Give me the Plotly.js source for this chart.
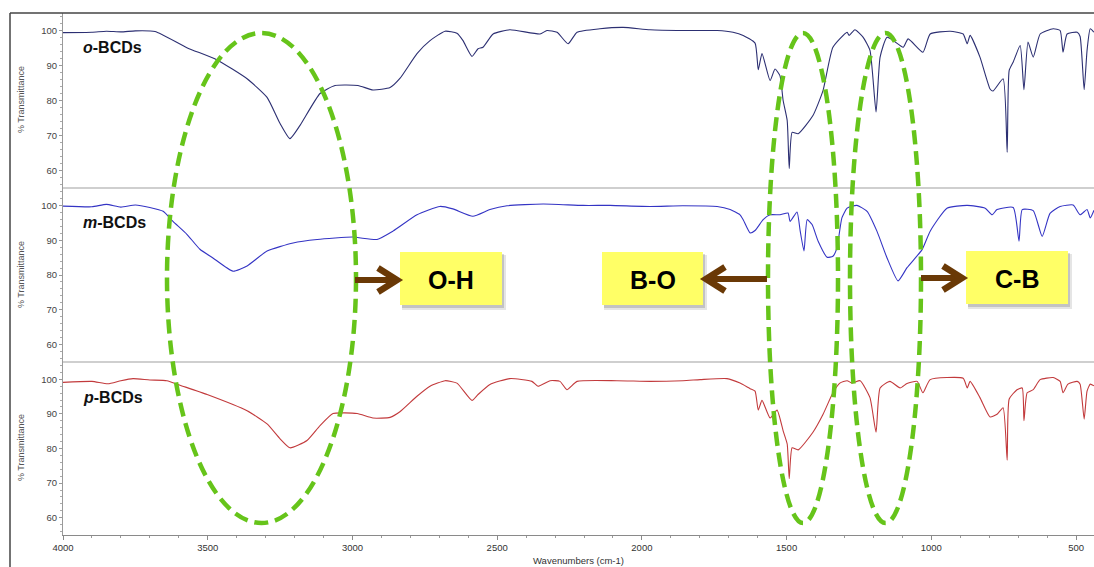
<!DOCTYPE html>
<html>
<head>
<meta charset="utf-8">
<script src="https://cdn.plot.ly/plotly-3.0.1.min.js"></script>
<style>html,body{margin:0;padding:0;background:#fff;}#chart{width:1094px;height:567px;}</style>
</head>
<body>
<div id="chart"></div>
<script>
// ---------- data ----------
const seriesNames = ["o-BCDs", "m-BCDs", "p-BCDs"];

const oWn = [4000,3900,3850,3800,3750,3682,3572,3468,3364,3295,3250,3216,3181,3112,3060,2981,2929,2870,2836,2777,2732,2680,2639,2618,2587,2566,2549,2514,2456,2352,2328,2293,2255,2224,2145,2065,1972,1858,1799,1740,1685,1650,1609,1598,1585,1557,1540,1523,1512,1498,1491,1481,1460,1409,1374,1340,1291,1284,1264,1236,1212,1191,1177,1153,1108,1097,1080,1029,1004,935,890,876,866,832,797,787,752,738,731,717,693,680,666,648,624,579,555,545,531,496,486,472,462,451,438];
const oT  = [99.4,99.5,99.8,99.6,99.9,99.7,95.1,91.6,86.2,80.9,73.4,69.1,72.9,82.0,84.3,84.3,83.0,83.7,86.3,93.4,97.1,99.8,99.2,97.1,92.6,94.8,95.2,99.0,100.2,99.0,100.0,99.5,96.2,99.5,100.5,100.9,100.2,100.0,100.0,100.0,99.5,98.6,96.4,88.8,93.4,85.7,89.0,87.1,80.0,74.3,60.6,70.9,70.5,75.7,82.9,95.2,99.5,98.6,100.2,98.1,94.3,76.7,92.4,98.1,95.7,95.2,97.6,93.8,99.0,99.8,99.0,96.2,98.6,92.4,83.3,82.7,86.2,65.2,88.6,91.0,95.7,83.1,96.7,92.4,99.0,100.5,100.0,93.8,99.0,99.5,98.3,83.1,94.3,100.5,99.5];

const mWn = [4000,3900,3850,3800,3750,3700,3654,3620,3572,3527,3482,3413,3364,3295,3205,3122,2998,2915,2860,2777,2698,2653,2584,2525,2466,2341,2203,2110,1972,1858,1740,1695,1661,1650,1626,1609,1581,1557,1523,1495,1488,1464,1453,1440,1429,1412,1391,1360,1340,1326,1309,1291,1257,1222,1188,1153,1115,1084,1032,1004,946,876,814,790,773,717,697,686,648,617,590,555,510,486,462,451,438];
const mT  = [99.8,99.6,100.3,99.5,100.1,99.4,98.3,95.4,91.7,87.4,84.9,81.1,82.6,86.9,89.2,90.2,90.9,90.2,92.6,97.3,99.7,99.0,96.9,98.8,99.9,100.4,100.0,100.0,99.7,99.9,99.7,98.8,97.3,95.9,92.1,92.8,95.9,97.3,97.3,97.8,95.4,98.1,92.6,86.9,95.9,94.5,89.7,85.1,85.4,87.8,96.4,99.2,100.0,98.3,92.6,84.9,78.3,82.1,87.3,92.6,99.2,100.0,99.2,97.3,98.8,99.4,89.7,98.8,98.5,91.1,97.7,99.7,100.1,97.3,98.8,96.4,98.6];

const pWn = [4000,3900,3845,3800,3758,3700,3641,3596,3502,3364,3295,3250,3216,3157,3112,3067,2984,2929,2870,2836,2777,2732,2680,2639,2587,2566,2525,2456,2380,2359,2317,2283,2259,2224,2086,1972,1858,1799,1706,1661,1626,1609,1598,1585,1557,1533,1512,1498,1491,1481,1460,1409,1374,1340,1316,1291,1274,1246,1212,1191,1177,1143,1108,1084,1049,1029,1004,890,876,866,832,797,773,752,738,731,704,686,680,669,648,624,579,555,545,528,496,486,472,462,451,438];
const pT  = [99.1,99.4,98.7,99.6,100.2,99.8,99.6,98.3,95.6,90.9,87.1,82.8,80.2,82.3,86.6,90.1,90.1,88.8,89.0,90.6,95.1,98.0,99.6,98.9,93.9,95.6,98.5,100.2,99.4,98.0,99.6,99.4,97.0,99.4,99.6,99.4,99.6,99.9,100.2,98.9,97.3,96.6,91.1,93.9,88.8,91.1,85.1,81.3,71.3,80.2,79.6,84.7,89.9,96.1,98.9,99.6,98.9,99.6,94.7,84.7,97.5,99.4,97.5,98.8,99.4,96.1,99.9,100.3,97.5,99.4,94.7,89.1,89.9,91.8,76.6,94.3,97.0,97.5,88.0,96.1,97.0,99.9,100.5,99.4,96.1,98.6,99.4,98.6,88.5,96.6,98.6,98.1];

const yTickVals = [60, 70, 80, 90, 100];
const xTickVals = [4000, 3500, 3000, 2500, 2000, 1500, 1000, 500];
const bandLabels = ["O-H", "B-O", "C-B"];

// ---------- helpers: pixel -> paper (style only) ----------
const L = 63, T = 13, B = 535, W = 1094;
const PW = W - L, PH = B - T;
const X = px => (px - L) / PW;
const Y = py => (B - py) / PH;

const FONT = "Arial, 'Liberation Sans', sans-serif";
const colors = ["#2c2f72", "#3434c4", "#c23a3c"];

const traces = [
  {x: oWn, y: oT, yaxis: "y",  name: seriesNames[0]},
  {x: mWn, y: mT, yaxis: "y2", name: seriesNames[1]},
  {x: pWn, y: pT, yaxis: "y3", name: seriesNames[2]}
].map((t, i) => Object.assign(t, {type: "scatter", mode: "lines", xaxis: "x",
  line: {color: colors[i], width: 1.1, shape: "spline", smoothing: 0.5}, hoverinfo: "skip"}));

function yax(domain) {
  return {
    domain: domain, range: [55, 105], fixedrange: true,
    tickmode: "array", tickvals: yTickVals,
    showline: true, linecolor: "#9a9a9a", linewidth: 1,
    ticks: "outside", ticklen: 3, tickcolor: "#9a9a9a",
    minor: {dtick: 2, ticks: "outside", ticklen: 2, tickcolor: "#aaa"},
    showgrid: false, zeroline: false,
    tickfont: {family: FONT, size: 9.5, color: "#444"}
  };
}

const shapes = [];
const annotations = [];

// outer frame
shapes.push({type: "line", xref: "paper", yref: "paper", x0: X(10), x1: X(1094), y0: Y(13), y1: Y(13), line: {color: "#444", width: 1.5}});
shapes.push({type: "line", xref: "paper", yref: "paper", x0: X(10), x1: X(10), y0: Y(13), y1: Y(567), line: {color: "#444", width: 1.5}});
// panel separators
[188, 362].forEach(py => shapes.push({type: "line", xref: "paper", yref: "paper", x0: X(63), x1: X(1094), y0: Y(py), y1: Y(py), line: {color: "#cfcfcf", width: 2}}));

// y titles + panel labels
const panelCenters = [100, 275, 448];
const labelYs = [47, 223, 397];
const labelHtml = ["<i>o</i>-BCDs", "<i>m</i>-BCDs", "<i>p</i>-BCDs"];
panelCenters.forEach((cy, i) => {
  annotations.push({xref: "paper", yref: "paper", x: X(21), y: Y(cy), text: "% Transmittance",
    showarrow: false, textangle: -90, font: {family: FONT, size: 9, color: "#555"}, xanchor: "center", yanchor: "middle"});
  annotations.push({xref: "paper", yref: "paper", x: X(81), y: Y(labelYs[i]), text: "<b>" + labelHtml[i] + "</b>",
    showarrow: false, font: {family: FONT, size: 16, color: "#111"}, xanchor: "left", yanchor: "middle"});
});

// green dashed ellipses
const ell = [[167, 356], [768, 838], [850, 921]];
ell.forEach(e => shapes.push({type: "circle", xref: "paper", yref: "paper", x0: X(e[0]), x1: X(e[1]), y0: Y(523), y1: Y(33),
  line: {color: "#66c41a", width: 4.5, dash: "14px,7px"}, layer: "above"}));

// label boxes with shadow
const boxes = [[400, 502, 252, 305], [602, 703, 252, 305], [966, 1068, 251, 304]];
boxes.forEach((b, i) => {
  shapes.push({type: "rect", xref: "paper", yref: "paper", x0: X(b[0] + 2), x1: X(b[1] + 4), y0: Y(b[3] + 5), y1: Y(b[2] + 3),
    fillcolor: "rgba(0,0,0,0.10)", line: {width: 0}, layer: "above"});
  shapes.push({type: "rect", xref: "paper", yref: "paper", x0: X(b[0] + 2), x1: X(b[1] + 2), y0: Y(b[3] + 3), y1: Y(b[2] + 2),
    fillcolor: "rgba(0,0,0,0.15)", line: {width: 0}, layer: "above"});
  shapes.push({type: "rect", xref: "paper", yref: "paper", x0: X(b[0]), x1: X(b[1]), y0: Y(b[3]), y1: Y(b[2]),
    fillcolor: "#ffff66", line: {width: 0}, layer: "above"});
  annotations.push({xref: "paper", yref: "paper", x: X((b[0] + b[1]) / 2), y: Y((b[2] + b[3]) / 2 + 1), text: "<b>" + bandLabels[i] + "</b>",
    showarrow: false, font: {family: FONT, size: 25, color: "#000"}, xanchor: "center", yanchor: "middle"});
});

// brown arrows: [tailX, tipX, y]
const arrows = [[355, 397, 280], [767, 706, 279], [921, 962, 278]];
const BROWN = "#6a3906";
arrows.forEach(a => {
  const dir = Math.sign(a[1] - a[0]);
  shapes.push({type: "line", xref: "paper", yref: "paper", x0: X(a[0]), x1: X(a[1] - dir * 3), y0: Y(a[2]), y1: Y(a[2]),
    line: {color: BROWN, width: 6}, layer: "above"});
  const bx = a[1] - dir * 19;
  const path = "M " + X(bx) + "," + Y(a[2] - 12) + " L " + X(a[1]) + "," + Y(a[2]) + " L " + X(bx) + "," + Y(a[2] + 12);
  shapes.push({type: "path", xref: "paper", yref: "paper", path: path, line: {color: BROWN, width: 6.5}, layer: "above"});
});

const layout = {
  width: 1094, height: 567,
  margin: {l: L, r: 0, t: T, b: 567 - B, pad: 0},
  paper_bgcolor: "#fff", plot_bgcolor: "#fff",
  showlegend: false,
  xaxis: {
    range: [4000, 438], anchor: "y3", fixedrange: true,
    tickmode: "array", tickvals: xTickVals,
    showline: true, linecolor: "#8a8a8a", linewidth: 1,
    ticks: "outside", ticklen: 4, tickcolor: "#8a8a8a",
    minor: {dtick: 100, ticks: "outside", ticklen: 2, tickcolor: "#999"},
    showgrid: false, zeroline: false,
    tickfont: {family: FONT, size: 9.5, color: "#333"},
    title: {text: "Wavenumbers (cm-1)", font: {family: FONT, size: 9.5, color: "#333"}, standoff: 4}
  },
  yaxis: yax([Y(188), 1]),
  yaxis2: yax([Y(362), Y(188)]),
  yaxis3: yax([0, Y(362)]),
  shapes: shapes,
  annotations: annotations
};

Plotly.newPlot("chart", traces, layout, {staticPlot: true, displayModeBar: false});
</script>
</body>
</html>
